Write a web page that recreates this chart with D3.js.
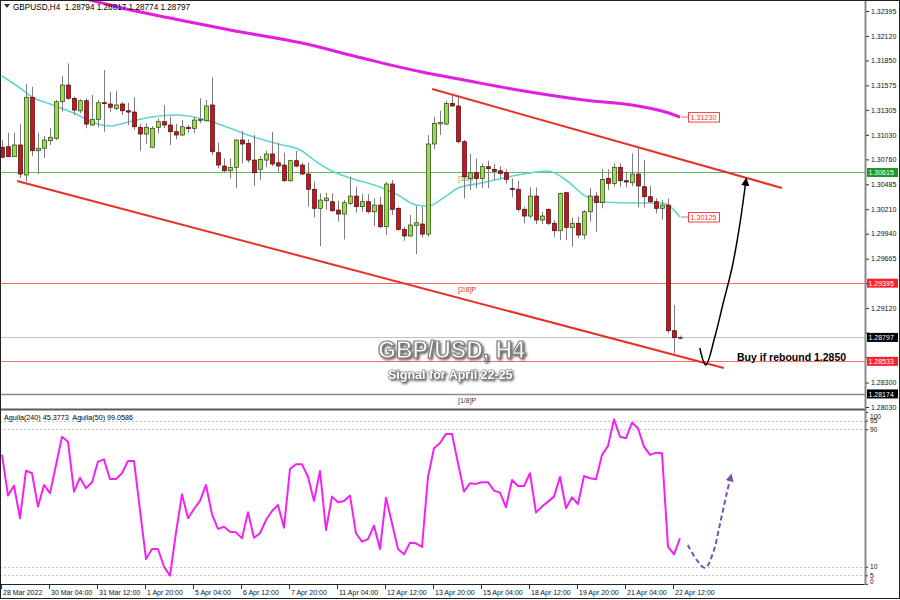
<!DOCTYPE html>
<html>
<head>
<meta charset="utf-8">
<script src="https://cdn.jsdelivr.net/npm/d3@7/dist/d3.min.js"></script>
<style>
html,body{margin:0;padding:0;background:#fff;}
svg{display:block;}
</style>
</head>
<body>
<svg id="chart" width="900" height="600"></svg>
<script>
// ---------------- DATA ----------------
const symbolHeader = "GBPUSD,H4  1.28794 1.28817 1.28774 1.28797";
const indicatorHeader = "Aguila(240) 45.3773  Aguila(50) 99.0586";
const timeLabels = ["28 Mar 2022","30 Mar 04:00","31 Mar 12:00","1 Apr 20:00","5 Apr 04:00","6 Apr 12:00","7 Apr 20:00","11 Apr 04:00","12 Apr 12:00","13 Apr 20:00","15 Apr 04:00","18 Apr 12:00","19 Apr 20:00","21 Apr 04:00","22 Apr 12:00"];
const timeLabelBars = [0,8,16,24,32,40,48,56,64,72,80,88,96,104,112];
const priceTicks = [1.32395,1.32120,1.31850,1.31575,1.31305,1.31030,1.30760,1.30485,1.30210,1.29940,1.29665,1.29395,1.29120,1.28850,1.28580,1.28300,1.28030];
const indicatorTicks = [100,95,90,10,5,0];
const indicatorLevels = [95,90,10,5];

const opens = [1.30893,1.30899,1.30789,1.30918,1.30587,1.31444,1.30855,1.30882,1.30965,1.30992,
1.31395,1.31579,1.31433,1.31295,1.31406,1.31138,1.31201,1.31384,1.31370,1.31322,
1.31370,1.31295,1.31281,1.31113,1.31039,1.30893,1.31113,1.31175,1.31138,1.31064,
1.31028,1.31113,1.31102,1.31193,1.31185,1.31359,1.30833,1.30686,1.30634,1.30672,
1.30973,1.30936,1.30752,1.30650,1.30752,1.30819,1.30722,1.30697,1.30524,1.30745,
1.30697,1.30598,1.30430,1.30220,1.30304,1.30293,1.30201,1.30157,1.30275,1.30355,
1.30238,1.30293,1.30182,1.30256,1.30017,1.30488,1.30220,1.29988,1.29915,1.30033,
1.30047,1.29936,1.30929,1.31150,1.31149,1.31377,1.31348,1.30954,1.30549,1.30612,
1.30549,1.30679,1.30650,1.30634,1.30612,1.30440,1.30430,1.30209,1.30135,1.30355,
1.30091,1.30209,1.30055,1.29973,1.30392,1.30010,1.30055,1.29926,1.30182,1.30355,
1.30282,1.30549,1.30495,1.30672,1.30524,1.30502,1.30598,1.30458,1.30348,1.30293,
1.30220,1.30256,1.28871,1.28794];
const highs = [1.30973,1.31053,1.31053,1.31149,1.31590,1.31560,1.31053,1.31017,1.31105,1.31414,
1.31678,1.31818,1.31450,1.31421,1.31433,1.31469,1.31414,1.31744,1.31505,1.31516,
1.31395,1.31384,1.31444,1.31149,1.31157,1.31127,1.31212,1.31359,1.31230,1.31149,
1.31193,1.31138,1.31230,1.31433,1.31414,1.31664,1.30943,1.30771,1.30771,1.30981,
1.31075,1.30981,1.31028,1.30797,1.30855,1.31064,1.30943,1.30833,1.30752,1.30855,
1.30722,1.30722,1.30513,1.30385,1.30392,1.30385,1.30304,1.30311,1.30568,1.30458,
1.30377,1.30377,1.30330,1.30348,1.30513,1.30532,1.30238,1.30017,1.30146,1.30245,
1.30238,1.31028,1.31230,1.31295,1.31406,1.31469,1.31450,1.30973,1.30819,1.30771,
1.30716,1.30745,1.30708,1.30686,1.30650,1.30549,1.30524,1.30238,1.30451,1.30451,
1.30182,1.30220,1.30091,1.30392,1.30403,1.30121,1.30128,1.30201,1.30441,1.30403,
1.30650,1.30650,1.30716,1.30716,1.30623,1.30826,1.30882,1.30752,1.30466,1.30330,
1.30311,1.30330,1.29154,1.28817];
const lows = [1.30775,1.30786,1.30786,1.30554,1.30513,1.30797,1.30598,1.30775,1.30918,1.30973,
1.31284,1.31414,1.31248,1.31267,1.31102,1.31127,1.31113,1.31064,1.31284,1.31303,
1.31248,1.31138,1.31083,1.30855,1.30929,1.30882,1.31047,1.31102,1.30918,1.30981,
1.31017,1.31047,1.31047,1.31157,1.31175,1.30808,1.30661,1.30623,1.30549,1.30441,
1.30716,1.30722,1.30466,1.30532,1.30672,1.30686,1.30623,1.30513,1.30513,1.30672,
1.30587,1.30238,1.30121,1.29804,1.30201,1.30182,1.30072,1.29878,1.30256,1.30171,
1.30182,1.30164,1.30025,1.29999,1.29926,1.30146,1.29973,1.29863,1.29907,1.29716,
1.29900,1.29907,1.30871,1.31028,1.31138,1.31340,1.30936,1.30330,1.30422,1.30441,
1.30441,1.30441,1.30532,1.30549,1.30495,1.30341,1.30182,1.30055,1.30110,1.30047,
1.30047,1.30036,1.29907,1.29870,1.29870,1.29796,1.29889,1.29878,1.30072,1.29962,
1.30220,1.30422,1.30458,1.30458,1.30451,1.30466,1.30231,1.30231,1.30275,1.30164,
1.30098,1.28842,1.28621,1.28774];
const closes = [1.30783,1.30789,1.30918,1.30598,1.31444,1.30855,1.30882,1.30973,1.31003,1.31395,
1.31579,1.31433,1.31303,1.31406,1.31149,1.31201,1.31384,1.31378,1.31334,1.31359,
1.31295,1.31281,1.31119,1.31039,1.31113,1.31102,1.31175,1.31138,1.31064,1.31028,
1.31119,1.31098,1.31193,1.31200,1.31348,1.30844,1.30697,1.30634,1.30672,1.30973,
1.30929,1.30752,1.30612,1.30760,1.30819,1.30708,1.30686,1.30524,1.30745,1.30686,
1.30598,1.30430,1.30220,1.30311,1.30333,1.30193,1.30157,1.30282,1.30355,1.30238,
1.30293,1.30182,1.30256,1.30017,1.30488,1.30209,1.29988,1.29915,1.30036,1.30061,
1.29936,1.30929,1.31157,1.31165,1.31377,1.31348,1.30954,1.30568,1.30612,1.30549,
1.30679,1.30657,1.30628,1.30605,1.30539,1.30432,1.30209,1.30135,1.30355,1.30091,
1.30135,1.30055,1.29973,1.30385,1.30010,1.30055,1.29926,1.30182,1.30355,1.30282,
1.30539,1.30495,1.30672,1.30524,1.30510,1.30598,1.30466,1.30348,1.30293,1.30220,
1.30256,1.28871,1.28794,1.28797];

// moving averages read at [bar, price]
const ma240 = [[12,1.32560],[16,1.32494],[20,1.32428],[28,1.32318],[38,1.32185],[50,1.32042],[60,1.31877],[70,1.31722],[77,1.31634],[86,1.31524],[97,1.31414],[105,1.31359],[110,1.31292],[113,1.31226]];
const ma50 = [[0,1.31678],[3,1.31546],[5,1.31447],[8,1.31370],[12,1.31270],[15,1.31171],[18,1.31127],[21,1.31171],[25,1.31226],[29,1.31248],[31,1.31237],[34,1.31193],[37,1.31127],[42,1.31006],[46,1.30929],[50,1.30852],[52,1.30752],[55,1.30631],[58,1.30554],[63,1.30455],[66,1.30366],[69,1.30256],[71,1.30245],[74,1.30355],[76,1.30444],[80,1.30499],[86,1.30587],[91,1.30631],[94,1.30532],[97,1.30366],[100,1.30289],[106,1.30278],[110,1.30278],[111,1.30256],[113,1.30124]];
const maLabels = ["1.31230","1.30125"];

const aguila = [75.3,51.4,57.2,38.2,65.9,64.4,45.0,57.6,52.8,69.2,
85.7,82.8,53.7,61.8,55.7,59.2,71.2,72.5,61.1,61.1,
64.4,71.6,71.6,43.0,14.5,20.3,20.3,10.0,4.8,29.8,
52.2,38.2,43.6,48.3,57.6,40.5,32.0,33.3,30.4,30.0,
26.5,41.7,26.9,29.5,37.2,42.4,45.9,32.7,66.9,69.6,
69.6,62.4,48.3,65.7,31.4,50.8,47.5,48.3,51.4,29.5,
24.6,26.1,33.9,20.3,50.2,35.3,20.3,17.2,24.0,23.6,
21.5,62.4,79.0,82.0,87.3,87.3,70.2,53.7,58.6,58.2,
59.2,59.2,54.3,53.1,44.6,60.5,57.0,57.0,64.4,41.5,
45.0,47.9,50.8,62.4,44.0,50.4,46.5,62.8,61.5,60.9,
75.1,80.3,95.8,85.7,84.8,93.9,90.6,79.9,75.1,76.4,
76.0,21.7,17.2,26.5];

const levelValues = [1.30615,1.29395,1.28797,1.28533,1.28174];
const levelLabels = ["1.30615","1.29395","1.28797","1.28533","1.28174"];
const levelTags = ["[3/8]P","[2/8]P","","","[1/8]P"];

const channelLower = [[2.5,1.30521],[120.3,1.28460]];
const channelUpper = [[71.7,1.31535],[130.0,1.30444]];
const reboundPath = [[116.3,1.28680],[117.3,1.28493],[118.8,1.28801],[120.2,1.29176],[121.7,1.29573],[123.0,1.30058],[124.0,1.30532]];
const aguilaPath = [[114.3,22.6],[115.8,13.9],[117.2,9.3],[118.5,18.0],[119.7,35.5],[120.8,52.9],[121.5,62.9]];

const titleText = "GBP/USD, H4";
const subtitleText = "Signal for April 22-25";
const buyText = "Buy if rebound 1.2850";

// ---------------- STYLE ----------------
const FONT = "'Liberation Sans', Arial, Helvetica, sans-serif";
const levelStyle = [
  {line:"#63b863", box:"#1f9a1f", tag:"#6aa86a", w:1},
  {line:"#ff6a6a", box:"#ff2424", tag:"#e23030", w:1},
  {line:"#bcc3cf", box:"#000000", tag:null, w:1},
  {line:"#ff6a6a", box:"#ff2424", tag:null, w:1},
  {line:"#8a8a8a", box:"#000000", tag:"#404040", w:1.5}
];

const svg = d3.select("#chart");
const AX = 865;
const MAIN_BOT = 409, IND_TOP = 411, IND_BOT = 584.5;

const x = d3.scaleLinear().domain([0,113]).range([2,680]);
const y = d3.scaleLinear().domain([1.28030,1.32395]).range([407,11]);
const yi = d3.scaleLinear().domain([0,100]).range([583.9,412.1]);

const defs = svg.append("defs");
defs.append("clipPath").attr("id","clipMain").append("rect")
  .attr("x",1).attr("y",1).attr("width",AX-1).attr("height",MAIN_BOT-1);
defs.append("clipPath").attr("id","clipInd").append("rect")
  .attr("x",1).attr("y",IND_TOP).attr("width",AX-1).attr("height",IND_BOT-IND_TOP);
function marker(id,color,size){
  defs.append("marker").attr("id",id).attr("viewBox","0 0 10 10")
    .attr("refX",7).attr("refY",5).attr("markerWidth",size).attr("markerHeight",size)
    .attr("orient","auto").append("path").attr("d","M0,0L10,5L0,10z").attr("fill",color);
}
marker("arrBlack","#000",5.5);
marker("arrPurple","#7a52aa",4);
const sh = defs.append("filter").attr("id","shadow").attr("x","-10%").attr("y","-30%").attr("width","130%").attr("height","170%");
sh.append("feDropShadow").attr("dx",1.5).attr("dy",1.5).attr("stdDeviation",0.9).attr("flood-color","#333").attr("flood-opacity",0.8);

svg.append("rect").attr("width",900).attr("height",600).attr("fill","#fff");

// ---------------- MAIN PANEL ----------------
const main = svg.append("g").attr("clip-path","url(#clipMain)");

levelValues.forEach((v,k)=>{
  const yy = Math.round(y(v))+0.5;
  main.append("line").attr("x1",0).attr("x2",AX).attr("y1",yy).attr("y2",yy)
    .attr("stroke",levelStyle[k].line).attr("stroke-width",levelStyle[k].w);
  if(levelTags[k]){
    main.append("text").attr("x",x(76)).attr("y",yy+8.5).text(levelTags[k])
      .attr("font-family",FONT).attr("font-size",7).attr("fill",levelStyle[k].tag);
  }
});

const maLine = d3.line().x(d=>x(d[0])).y(d=>y(d[1])).curve(d3.curveMonotoneX);
main.append("path").datum(ma50).attr("d",maLine).attr("fill","none")
  .attr("stroke","#5fd6cf").attr("stroke-width",1.6);
main.append("path").datum(ma240).attr("d",maLine).attr("fill","none")
  .attr("stroke","#e01fe0").attr("stroke-width",3);

const bars = d3.range(opens.length).map(i=>({i,o:opens[i],h:highs[i],l:lows[i],c:closes[i]}));
const cg = main.append("g");
cg.selectAll("line.wick").data(bars).join("line").attr("class","wick")
  .attr("x1",d=>Math.round(x(d.i))+0.5).attr("x2",d=>Math.round(x(d.i))+0.5)
  .attr("y1",d=>y(d.h)).attr("y2",d=>y(d.l))
  .attr("stroke","#7d7d7d").attr("stroke-width",1);
cg.selectAll("rect.body").data(bars).join("rect").attr("class","body")
  .attr("x",d=>Math.round(x(d.i))-1.5).attr("width",4)
  .attr("y",d=>y(Math.max(d.o,d.c)))
  .attr("height",d=>Math.max(1,Math.abs(y(d.o)-y(d.c))))
  .attr("fill",d=>d.c>=d.o?"#92e23f":"#c4161d")
  .attr("stroke",d=>d.c>=d.o?"#2e3a1c":"#4a0b0b").attr("stroke-width",0.7);

const straight = d3.line().x(d=>x(d[0])).y(d=>y(d[1]));
[channelLower,channelUpper].forEach(c=>{
  main.append("path").datum(c).attr("d",straight).attr("fill","none")
    .attr("stroke","#e8302b").attr("stroke-width",2);
});

main.append("path").datum(reboundPath)
  .attr("d",d3.line().x(d=>x(d[0])).y(d=>y(d[1])).curve(d3.curveCatmullRom.alpha(0.5)))
  .attr("fill","none").attr("stroke","#000").attr("stroke-width",1.5)
  .attr("marker-end","url(#arrBlack)");

[[ma240,maLabels[0]],[ma50,maLabels[1]]].forEach(([ma,lab])=>{
  const last = ma[ma.length-1];
  const lx = x(last[0]), ly = y(last[1]);
  main.append("line").attr("x1",lx+1).attr("x2",lx+8).attr("y1",ly).attr("y2",ly)
    .attr("stroke","#ff4040").attr("stroke-width",0.8);
  main.append("rect").attr("x",lx+8.5).attr("y",ly-4.5).attr("width",31).attr("height",9.5)
    .attr("fill","#fff").attr("stroke","#ff4040").attr("stroke-width",1);
  main.append("text").attr("x",lx+10.5).attr("y",ly+3).text(lab)
    .attr("font-family",FONT).attr("font-size",7.2).attr("fill","#ff3030");
});

main.append("text").attr("x",378).attr("y",358).text(titleText)
  .attr("font-family",FONT).attr("font-weight","bold").attr("font-size",23)
  .attr("fill","#fafafa").attr("stroke","#808080").attr("stroke-width",1.2)
  .attr("filter","url(#shadow)");
main.append("text").attr("x",388).attr("y",379).text(subtitleText)
  .attr("font-family",FONT).attr("font-weight","bold").attr("font-size",12.5)
  .attr("fill","#ffffff").attr("stroke","#6e6e6e").attr("stroke-width",1)
  .attr("paint-order","stroke").attr("filter","url(#shadow)");
main.append("text").attr("x",737).attr("y",361).text(buyText)
  .attr("font-family",FONT).attr("font-weight","bold").attr("font-size",10.5).attr("fill","#000");

svg.append("path").attr("d","M4,4L10,4L7,8Z").attr("fill","#333");
svg.append("text").attr("x",13).attr("y",9.5).text(symbolHeader)
  .attr("font-family",FONT).attr("font-size",8.2).attr("fill","#000").style("white-space","pre");

// ---------------- INDICATOR PANEL ----------------
const ind = svg.append("g").attr("clip-path","url(#clipInd)");
indicatorLevels.forEach(v=>{
  const yy = Math.round(yi(v))+0.5;
  ind.append("line").attr("x1",0).attr("x2",AX).attr("y1",yy).attr("y2",yy)
    .attr("stroke","#c4c4c4").attr("stroke-width",1).attr("stroke-dasharray","2,2");
});
ind.append("path").datum(aguila)
  .attr("d",d3.line().x((d,i)=>x(i)).y(d=>yi(d)))
  .attr("fill","none").attr("stroke","#f222f2").attr("stroke-width",2).attr("stroke-linejoin","round");
ind.append("path").datum(aguilaPath)
  .attr("d",d3.line().x(d=>x(d[0])).y(d=>yi(d[1])).curve(d3.curveCatmullRom.alpha(0.5)))
  .attr("fill","none").attr("stroke","#7a52aa").attr("stroke-width",2).attr("stroke-dasharray","5,3")
  .attr("marker-end","url(#arrPurple)");
svg.append("text").attr("x",4).attr("y",420).text(indicatorHeader)
  .attr("font-family",FONT).attr("font-size",7.2).attr("fill","#000").style("white-space","pre");

// ---------------- FRAMES & AXES ----------------
svg.append("line").attr("x1",0).attr("x2",AX).attr("y1",409.5).attr("y2",409.5).attr("stroke","#5a5a5a").attr("stroke-width",2);
svg.append("line").attr("x1",0).attr("x2",AX).attr("y1",584.5).attr("y2",584.5).attr("stroke","#222").attr("stroke-width",1);
svg.append("line").attr("x1",AX+0.5).attr("x2",AX+0.5).attr("y1",0).attr("y2",585).attr("stroke","#8a8a8a").attr("stroke-width",2);
svg.append("rect").attr("x",0.5).attr("y",0.5).attr("width",899).attr("height",598).attr("fill","none").attr("stroke","#222").attr("stroke-width",1);

const coveredBy = t => levelValues.some(v=>Math.abs(y(v)-y(t))<5.5);
const pa = svg.append("g").attr("transform",`translate(${AX+1},0)`)
  .call(d3.axisRight(y).tickValues(priceTicks).tickSize(3).tickPadding(2)
    .tickFormat(t=>coveredBy(t)?"":d3.format(".5f")(t)));
pa.select(".domain").remove();
pa.selectAll("line").attr("stroke","#333");
pa.selectAll("text").attr("font-family",FONT).attr("font-size",7).attr("fill","#111");

levelValues.forEach((v,k)=>{
  const yy = y(v);
  svg.append("rect").attr("x",AX+2).attr("y",yy-4.5).attr("width",31).attr("height",9)
    .attr("fill",levelStyle[k].box);
  svg.append("text").attr("x",AX+3.5).attr("y",yy+2.6).text(levelLabels[k])
    .attr("font-family",FONT).attr("font-size",7).attr("fill","#fff");
});

// indicator axis (end labels kept inside the panel, as the terminal does)
const ia = svg.append("g").attr("transform",`translate(${AX+1},0)`)
  .call(d3.axisRight(yi).tickValues(indicatorTicks).tickSize(2).tickPadding(2).tickFormat(d3.format("d")));
ia.select(".domain").remove();
ia.selectAll("line").attr("stroke","#333");
ia.selectAll("text").attr("font-family",FONT).attr("font-size",6.6).attr("fill","#111")
  .attr("dy",d=>d===100?"0.95em":(d===0?"-0.1em":"0.32em"));

const tg = svg.append("g");
timeLabelBars.forEach((b,k)=>{
  const tx = Math.round(x(b))-0.5;
  tg.append("line").attr("x1",tx).attr("x2",tx).attr("y1",585).attr("y2",589).attr("stroke","#333");
  tg.append("text").attr("x",tx+1.5).attr("y",595).text(timeLabels[k])
    .attr("font-family",FONT).attr("font-size",7).attr("fill","#111");
});
</script>
</body>
</html>
